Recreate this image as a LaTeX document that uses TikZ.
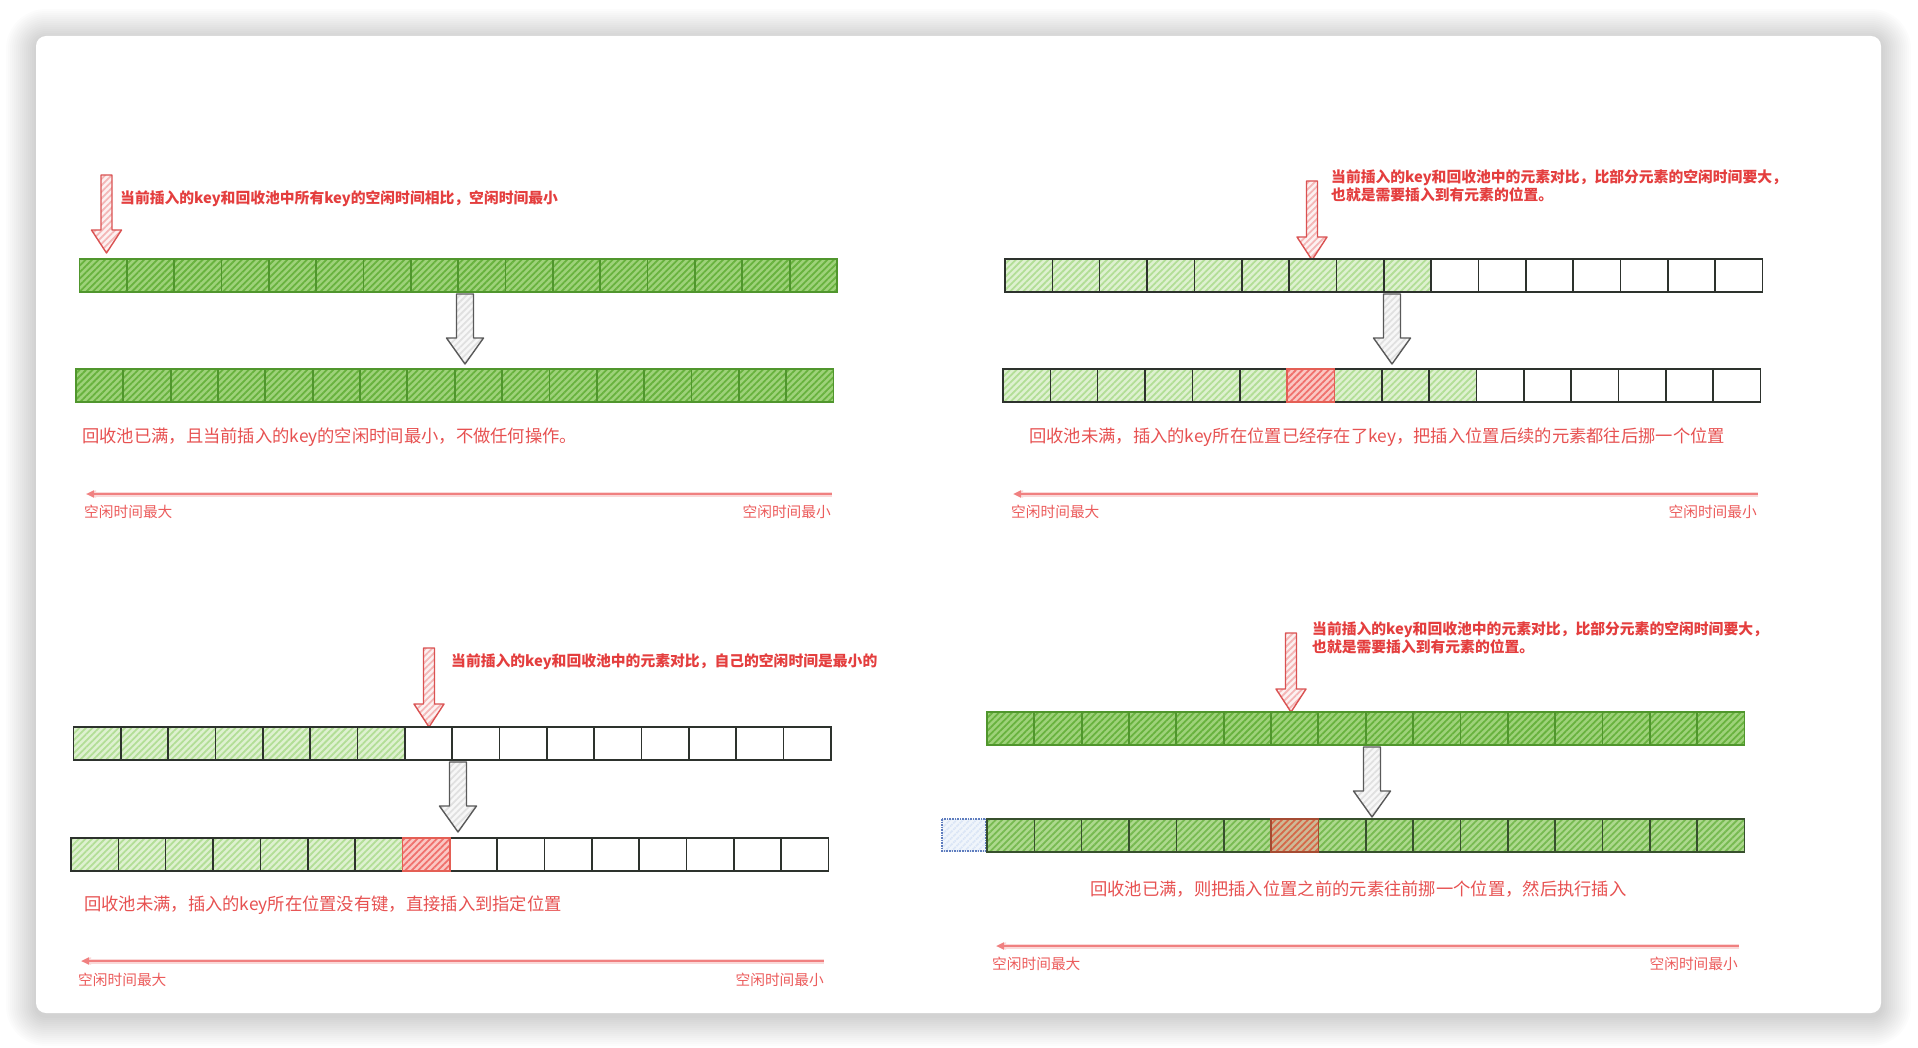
\documentclass[tikz,border=0pt]{standalone}
\usepackage{fontspec}
\setmainfont{Noto Sans CJK SC}
\usepackage{tikz}
\usetikzlibrary{arrows.meta,patterns.meta}

\definecolor{grnline}{RGB}{80,150,45}
\definecolor{grnhatch}{RGB}{104,178,62}
\definecolor{grnbg}{RGB}{158,210,122}
\definecolor{ltline}{RGB}{45,50,45}
\definecolor{lthatch}{RGB}{178,222,150}
\definecolor{ltbg}{RGB}{222,241,208}
\definecolor{rdline}{RGB}{228,95,85}
\definecolor{rdhatch}{RGB}{240,112,108}
\definecolor{rdbg}{RGB}{250,200,196}
\definecolor{brline}{RGB}{165,75,50}
\definecolor{brhatch}{RGB}{214,104,72}
\definecolor{brbg}{RGB}{205,185,150}
\definecolor{bluline}{RGB}{95,125,190}
\definecolor{bluhatch}{RGB}{218,229,246}
\definecolor{txtred}{RGB}{228,62,62}
\definecolor{lblred}{RGB}{236,92,92}
\definecolor{tlred}{RGB}{240,128,128}
\definecolor{arrred}{RGB}{218,82,82}
\definecolor{arrpink}{RGB}{244,182,182}

\tikzset{
	hatch/.style 2 args={preaction={fill=#1}, pattern={Lines[angle=45,distance=4.6pt,line width=1.8pt]}, pattern color=#2},
	darkcell/.style={hatch={grnbg}{grnhatch}, draw=grnline, line width=1.8},
	darkcelltwo/.style={hatch={grnbg!85!white}{grnhatch!90!white}, draw=ltline!70!grnline, line width=1.6},
	lightcell/.style={hatch={ltbg}{lthatch}, draw=ltline, line width=1.6},
	emptycell/.style={fill=white, draw=ltline, line width=1.6},
	redcell/.style={hatch={rdbg}{rdhatch}, draw=rdline, line width=1.6},
	browncell/.style={hatch={brbg}{brhatch}, draw=brline, line width=1.6},
	ghostcell/.style={hatch={bluhatch!40!white}{bluhatch}, draw=bluline, densely dotted, line width=1.6},
	redarrow/.style={hatch={arrred!8!white}{arrpink}, draw=arrred, line width=1.4, line join=round},
	greyarrow/.style={hatch={black!3}{black!12}, draw=black!65, line width=1.4, line join=round},
	note/.style={text=txtred, font=\bfseries\fontsize{14.8}{18}\selectfont, inner sep=0, anchor=west, align=left},
	caption/.style={text=txtred!90!white, font=\fontsize{17.3}{20}\selectfont, inner sep=0, anchor=west},
	endlbl/.style={text=lblred, font=\fontsize{14.7}{17}\selectfont, inner sep=0},
	timeln/.style={draw=tlred, line width=2.2, -{Triangle[length=8,width=7]}, preaction={draw=tlred!30, line width=5, shorten <=0, shorten >=2}},
}

\def\cw{47.34}
\def\ch{33}
\def\cellrow[#1](#2,#3)(#4:#5){\foreach \i in {#4,...,#5} \draw[#1] ({#2+\i*\cw},#3) rectangle ++(\cw,\ch);}
\def\blockarrow[#1](#2,#3,#4)(#5:#6:#7){\draw[#1] ({#2-#6},#3) -- ({#2+#6},#3) -- ({#2+#6},{#4-#5}) -- ({#2+#7},{#4-#5}) -- (#2,#4) -- ({#2-#7},{#4-#5}) -- ({#2-#6},{#4-#5}) -- cycle;}

\begin{document}
\begin{tikzpicture}[x=1pt, y=-1pt]
		%%%%% START %%%%%
		
		\useasboundingbox (0,0) rectangle (1918,1048);
		\foreach \s in {1,...,15}
			\fill[black, opacity=0.012, rounded corners={10+2*\s}] ({36-2*\s},{36-2*\s+3}) rectangle ({1881+2*\s},{1013+2*\s+3});
		\fill[white, rounded corners=10] (36,36) rectangle (1881,1013);
		
		%% top left: pool full, key smallest
		\blockarrow[redarrow](106.5,175,253)(23:5.5:15)
		\node[note] (n1) at (120,199) {当前插入的key和回收池中所有key的空闲时间相比，空闲时间最小};
		\cellrow[darkcell](79.5,259)(0:15)
		\blockarrow[greyarrow](465,294,364)(26:8.5:18.5)
		\cellrow[darkcell](76,369)(0:15)
		\node[caption] (c1) at (82,437) {回收池已满，且当前插入的key的空闲时间最小，不做任何操作。};
		\coordinate (tr1) at (832,494);
		\coordinate (tl1) at (86,494);
		\draw[timeln] (tr1) -- (tl1);
		\node[endlbl, anchor=west] (a1) at (84,512) {空闲时间最大};
		\node[endlbl, anchor=east] (b1) at (831,512) {空闲时间最小};
		
		%% top right: pool not full, slot taken
		\blockarrow[redarrow](1312,181,260)(23:5.5:15)
		\node[note] (n2) at (1331,186) {当前插入的key和回收池中的元素对比，比部分元素的空闲时间要大，\\也就是需要插入到有元素的位置。};
		\cellrow[lightcell](1005,259)(0:8)
		\cellrow[emptycell](1005,259)(9:15)
		\blockarrow[greyarrow](1392,294,364)(26:8.5:18.5)
		\cellrow[lightcell](1003,369)(0:5)
		\cellrow[lightcell](1003,369)(7:9)
		\cellrow[emptycell](1003,369)(10:15)
		\cellrow[redcell](1003,369)(6:6)
		\node[caption] (c2) at (1029,437) {回收池未满，插入的key所在位置已经存在了key，把插入位置后续的元素都往后挪一个位置};
		\coordinate (tr2) at (1758,494);
		\coordinate (tl2) at (1013,494);
		\draw[timeln] (tr2) -- (tl2);
		\node[endlbl, anchor=west] (a2) at (1011,512) {空闲时间最大};
		\node[endlbl, anchor=east] (b2) at (1757,512) {空闲时间最小};
		
		%% bottom left: pool not full, free slot
		\blockarrow[redarrow](429,648,727)(23:5.5:15)
		\node[note] (n3) at (451,662) {当前插入的key和回收池中的元素对比，自己的空闲时间是最小的};
		\cellrow[lightcell](73.5,727)(0:6)
		\cellrow[emptycell](73.5,727)(7:15)
		\blockarrow[greyarrow](458,762,832)(26:8.5:18.5)
		\cellrow[lightcell](71,838)(0:6)
		\cellrow[emptycell](71,838)(8:15)
		\cellrow[redcell](71,838)(7:7)
		\node[caption] (c3) at (84,905) {回收池未满，插入的key所在位置没有键，直接插入到指定位置};
		\coordinate (tr3) at (824,961);
		\coordinate (tl3) at (81,961);
		\draw[timeln] (tr3) -- (tl3);
		\node[endlbl, anchor=west] (a3) at (78,980) {空闲时间最大};
		\node[endlbl, anchor=east] (b3) at (824,980) {空闲时间最小};
		
		%% bottom right: pool full, shift forward
		\blockarrow[redarrow](1291,633,712)(23:5.5:15)
		\node[note] (n4) at (1312,638) {当前插入的key和回收池中的元素对比，比部分元素的空闲时间要大，\\也就是需要插入到有元素的位置。};
		\cellrow[darkcell](987,712)(0:15)
		\blockarrow[greyarrow](1372,747,817)(26:8.5:18.5)
		\draw[ghostcell] (942,819) rectangle (986,851);
		\cellrow[darkcelltwo](987,819)(0:5)
		\cellrow[darkcelltwo](987,819)(7:15)
		\cellrow[browncell](987,819)(6:6)
		\node[caption] (c4) at (1090,889) {回收池已满，则把插入位置之前的元素往前挪一个位置，然后执行插入};
		\coordinate (tr4) at (1739,946);
		\coordinate (tl4) at (996,946);
		\draw[timeln] (tr4) -- (tl4);
		\node[endlbl, anchor=west] (a4) at (992,964) {空闲时间最大};
		\node[endlbl, anchor=east] (b4) at (1738,964) {空闲时间最小};
		
		%%%%% END %%%%%
\end{tikzpicture}
\end{document}
